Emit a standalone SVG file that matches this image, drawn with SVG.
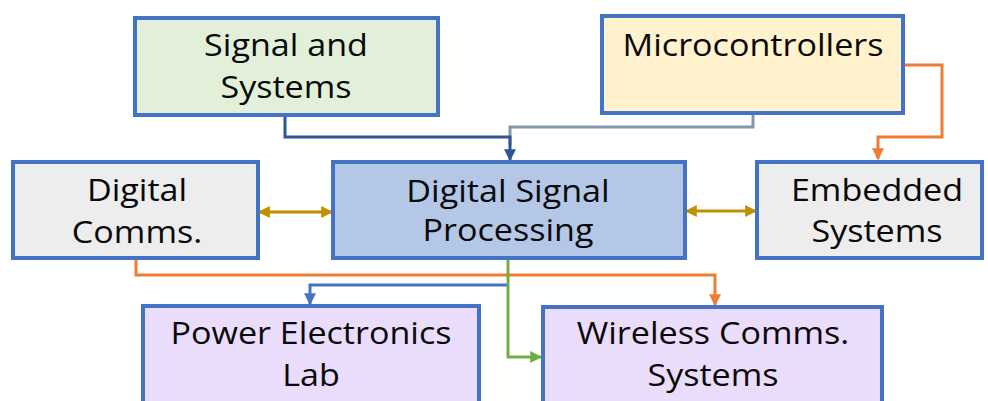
<svg xmlns="http://www.w3.org/2000/svg" width="988" height="401" viewBox="0 0 988 401">
<style>
.box{stroke:#4472C4;stroke-width:4}
.t{font-family:"Open Sans","Noto Sans",sans-serif;font-size:31px;fill:#0a0a0a;text-anchor:middle;dominant-baseline:central}
.c{fill:none;stroke-width:3;stroke-linejoin:miter}
</style>
<defs>
<marker id="aDB" viewBox="0 0 10 10" refX="9" refY="5" markerWidth="4" markerHeight="4" orient="auto-start-reverse" markerUnits="strokeWidth"><path d="M0,0L10,5L0,10z" fill="#2F5597"/></marker>
<marker id="aB" viewBox="0 0 10 10" refX="9" refY="5" markerWidth="4" markerHeight="4" orient="auto-start-reverse" markerUnits="strokeWidth"><path d="M0,0L10,5L0,10z" fill="#4472C4"/></marker>
<marker id="aO" viewBox="0 0 10 10" refX="9" refY="5" markerWidth="4" markerHeight="4" orient="auto-start-reverse" markerUnits="strokeWidth"><path d="M0,0L10,5L0,10z" fill="#ED7D31"/></marker>
<marker id="aG" viewBox="0 0 10 10" refX="9" refY="5" markerWidth="4" markerHeight="4" orient="auto-start-reverse" markerUnits="strokeWidth"><path d="M0,0L10,5L0,10z" fill="#70AD47"/></marker>
<marker id="aY" viewBox="0 0 10 10" refX="9" refY="5" markerWidth="4" markerHeight="4" orient="auto-start-reverse" markerUnits="strokeWidth"><path d="M0,0L10,5L0,10z" fill="#BF9000"/></marker>
</defs>
<rect width="988" height="401" fill="#fff"/>
<g id="connectors">
<path class="c" stroke="#8497B0" d="M753,113V127H510V145"/>
<path class="c" stroke="#2F5597" d="M285,115V137H510V160" marker-end="url(#aDB)"/>
<path class="c" stroke="#ED7D31" d="M903,65H942V137H878V159" marker-end="url(#aO)"/>
<path class="c" stroke="#BF9000" d="M259,212H332" marker-start="url(#aY)" marker-end="url(#aY)"/>
<path class="c" stroke="#BF9000" d="M686,211H756" marker-start="url(#aY)" marker-end="url(#aY)"/>
<path class="c" stroke="#ED7D31" d="M136,258V275H715V305" marker-end="url(#aO)"/>
<path class="c" stroke="#4472C4" d="M508,285H310V304" marker-end="url(#aB)"/>
<path class="c" stroke="#70AD47" d="M508,258V357H541" marker-end="url(#aG)"/>
</g>
<g id="signal-systems">
<rect class="box" x="135" y="18" width="303" height="97" fill="#E2F0D9"/>
<g transform="translate(286,0) scale(1.1,1)">
<text class="t" x="0" y="44">Signal and</text>
<text class="t" x="0" y="86">Systems</text>
</g>
</g>
<g id="microcontrollers">
<rect class="box" x="602" y="16" width="301" height="97" fill="#FFF2CC"/>
<g transform="translate(753,0) scale(1.1,1)">
<text class="t" x="0" y="44">Microcontrollers</text>
</g>
</g>
<g id="digital-comms">
<rect class="box" x="13" y="162" width="245" height="96" fill="#EDEDED"/>
<g transform="translate(137,0) scale(1.1,1)">
<text class="t" x="0" y="189">Digital</text>
<text class="t" x="0" y="231">Comms.</text>
</g>
</g>
<g id="dsp">
<rect class="box" x="333" y="162" width="352" height="96" fill="#B4C7E7"/>
<g transform="translate(508,0) scale(1.1,1)">
<text class="t" x="0" y="190">Digital Signal</text>
<text class="t" x="0" y="229">Processing</text>
</g>
</g>
<g id="embedded">
<rect class="box" x="757" y="162" width="225" height="96" fill="#EDEDED"/>
<g transform="translate(877,0) scale(1.1,1)">
<text class="t" x="0" y="189">Embedded</text>
<text class="t" x="0" y="230">Systems</text>
</g>
</g>
<g id="power-electronics">
<rect class="box" x="143" y="306" width="336" height="110" fill="#EADCFB"/>
<g transform="translate(311,0) scale(1.1,1)">
<text class="t" x="0" y="332">Power Electronics</text>
<text class="t" x="0" y="374">Lab</text>
</g>
</g>
<g id="wireless">
<rect class="box" x="543" y="307" width="339" height="110" fill="#EADCFB"/>
<g transform="translate(713,0) scale(1.1,1)">
<text class="t" x="0" y="332">Wireless Comms.</text>
<text class="t" x="0" y="374">Systems</text>
</g>
</g>
</svg>
